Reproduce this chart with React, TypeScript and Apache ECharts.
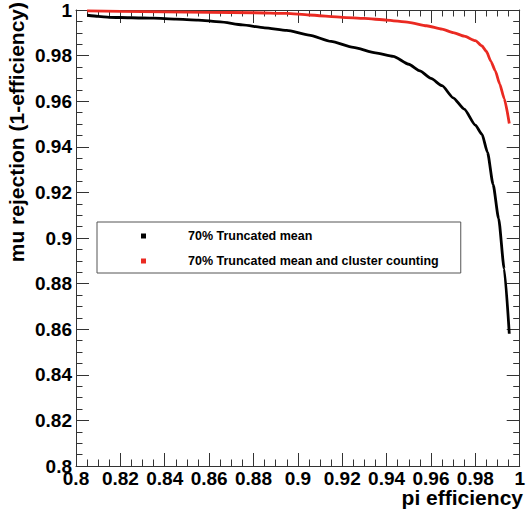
import React, { useEffect, useRef } from "react";
import * as echarts from "echarts";

const seriesNames = ["70% Truncated mean", "70% Truncated mean and cluster counting"];

// 70% Truncated mean (black)
const truncMeanX = [0.805, 0.81, 0.815, 0.825, 0.835, 0.845, 0.855, 0.865, 0.875, 0.885, 0.895, 0.905, 0.915, 0.925, 0.935, 0.943, 0.95, 0.955, 0.96, 0.965, 0.97, 0.975, 0.98, 0.983, 0.9855, 0.988, 0.9905, 0.993, 0.9953];
const truncMeanY = [0.9977, 0.9972, 0.9968, 0.9966, 0.9964, 0.996, 0.9956, 0.9948, 0.9935, 0.9922, 0.9911, 0.989, 0.9862, 0.9836, 0.9812, 0.9797, 0.9762, 0.9733, 0.97, 0.9668, 0.9615, 0.9565, 0.9495, 0.9455, 0.9375, 0.9235, 0.9085, 0.8865, 0.858];

// 70% Truncated mean and cluster counting (red)
const clusterX = [0.805, 0.82, 0.84, 0.86, 0.88, 0.895, 0.905, 0.92, 0.93, 0.94, 0.95, 0.958, 0.965, 0.97, 0.975, 0.98, 0.983, 0.985, 0.987, 0.989, 0.991, 0.993, 0.9953];
const clusterY = [0.9996, 0.9994, 0.9992, 0.999, 0.9988, 0.9985, 0.9978, 0.9968, 0.9963, 0.9956, 0.9946, 0.9931, 0.9916, 0.9901, 0.9885, 0.9866, 0.9842, 0.9818, 0.9775, 0.9733, 0.9675, 0.9612, 0.9502];

const xTitle = "pi efficiency";
const yTitle = "mu rejection (1-efficiency)";

const FONT = "'Liberation Sans', Arial, Helvetica, sans-serif";
const FRAME = "#333";

function axisBase(position: string) {
  return {
    type: "value",
    min: 0.8,
    max: 1.0,
    interval: 0.02,
    position,
    axisLine: { show: true, onZero: false, lineStyle: { color: FRAME, width: 1 } },
    axisTick: { show: true, inside: true, length: 13, lineStyle: { color: FRAME, width: 1 } },
    minorTick: { show: true, splitNumber: 4, length: 6.5, lineStyle: { color: FRAME, width: 1 } },
    splitLine: { show: false },
    minorSplitLine: { show: false },
  };
}

const fmt = (v: number) => String(+v.toFixed(2));

export default function App() {
  const ref = useRef<HTMLDivElement>(null);
  useEffect(() => {
    if (!ref.current) return;
    const chart = echarts.init(ref.current, undefined, { renderer: "svg" });
    const labelStyle = {
      fontSize: 19,
      fontWeight: "bold",
      fontFamily: FONT,
      color: "#000",
      formatter: fmt,
      showMinLabel: true,
      showMaxLabel: true,
      hideOverlap: false,
    };
    chart.setOption({
      animation: false,
      backgroundColor: "#fff",
      grid: { left: 76, right: 3, top: 10, bottom: 51 },
      xAxis: [
        { ...axisBase("bottom"), axisLabel: { ...labelStyle, margin: 3 } },
        { ...axisBase("top"), axisLabel: { show: false } },
      ],
      yAxis: [
        { ...axisBase("left"), axisLabel: { ...labelStyle, margin: 4 } },
        { ...axisBase("right"), axisLabel: { show: false } },
      ],
      legend: {
        show: true,
        orient: "vertical",
        left: 97,
        top: 222,
        icon: "rect",
        itemWidth: 5,
        itemHeight: 5,
        itemGap: 11,
        padding: [7, 22, 5, 44],
        borderColor: "#555",
        borderWidth: 1,
        backgroundColor: "#fff",
        selectedMode: false,
        textStyle: { fontSize: 12.5, fontWeight: "bold", fontFamily: FONT, color: "#000", lineHeight: 14, padding: [0, 0, 0, 37] },
        data: seriesNames,
      },
      series: [
        {
          name: seriesNames[0],
          type: "line",
          xAxisIndex: 0,
          yAxisIndex: 0,
          symbol: "none",
          showSymbol: false,
          smooth: 0.2,
          smoothMonotone: "x",
          lineStyle: { color: "#000", width: 2.8 },
          itemStyle: { color: "#000" },
          data: truncMeanX.map((x, i) => [x, truncMeanY[i]]),
        },
        {
          name: seriesNames[1],
          type: "line",
          xAxisIndex: 0,
          yAxisIndex: 0,
          symbol: "none",
          showSymbol: false,
          smooth: 0.2,
          smoothMonotone: "x",
          lineStyle: { color: "#ea2a22", width: 2.8 },
          itemStyle: { color: "#ea2a22" },
          data: clusterX.map((x, i) => [x, clusterY[i]]),
        },
      ],
      graphic: [
        {
          type: "text",
          x: 523,
          y: 497,
          style: { text: xTitle, fontSize: 21, fontWeight: "bold", fontFamily: FONT, fill: "#000", align: "right", verticalAlign: "middle" },
        },
        {
          type: "text",
          x: 16,
          y: 2,
          rotation: Math.PI / 2,
          style: { text: yTitle, fontSize: 21, fontWeight: "bold", fontFamily: FONT, fill: "#000", align: "right", verticalAlign: "middle" },
        },
      ],
    });
    return () => chart.dispose();
  }, []);
  return <div ref={ref} style={{ position: "fixed", left: 0, top: 0, width: 528, height: 517 }} />;
}
